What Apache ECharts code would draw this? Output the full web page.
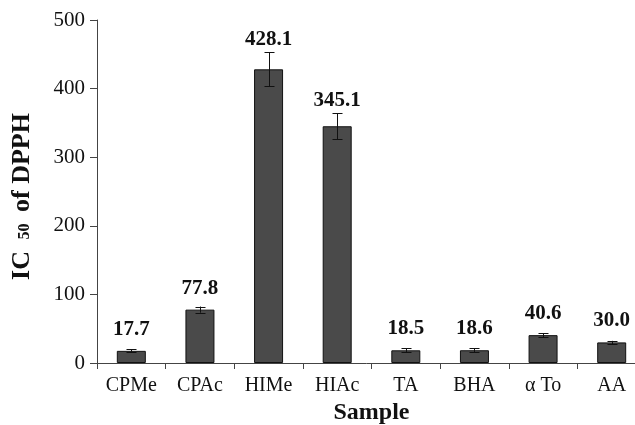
<!DOCTYPE html>
<html>
<head>
<meta charset="utf-8">
<script src="https://cdn.jsdelivr.net/npm/echarts@6/dist/echarts.min.js"></script>
<style>
  html, body { margin: 0; padding: 0; background: #fff; }
  #chart { width: 635px; height: 425px; }
</style>
</head>
<body>
<div id="chart"></div>
<script>
// IC50 of DPPH radical scavenging per sample, with standard deviation
const categories = ['CPMe', 'CPAc', 'HIMe', 'HIAc', 'TA', 'BHA', 'α To', 'AA'];
const ic50Values = [17.7, 77.8, 428.1, 345.1, 18.5, 18.6, 40.6, 30.0];
const ic50Errors = [2.2, 4.5, 25, 19, 3, 3, 2.8, 2.3];
const yTicks = [0, 100, 200, 300, 400, 500];

const serif = '"Liberation Serif", "Times New Roman", serif';
const axisColor = '#444';
const ink = '#111';

const errorData = ic50Values.map((v, i) => [i, v, ic50Errors[i]]);

const chart = echarts.init(document.getElementById('chart'));
chart.setOption({
  animation: false,
  backgroundColor: '#fff',
  grid: { left: 97, right: -11, top: 20, bottom: 62, containLabel: false, outerBoundsMode: 'none' },
  xAxis: {
    type: 'category',
    data: categories,
    boundaryGap: true,
    name: 'Sample',
    nameLocation: 'middle',
    nameGap: 37,
    nameTextStyle: { fontFamily: serif, fontWeight: 'bold', fontSize: 24, color: ink },
    axisLine: { lineStyle: { color: axisColor, width: 1 } },
    axisTick: { show: true, length: 6, lineStyle: { color: axisColor } },
    axisLabel: { fontFamily: serif, fontSize: 20, color: ink, margin: 13 },
    splitLine: { show: false }
  },
  yAxis: {
    type: 'value',
    min: yTicks[0],
    max: yTicks[yTicks.length - 1],
    interval: yTicks[1] - yTicks[0],
    name: '{a|IC }{b|50}{c| of DPPH}',
    nameLocation: 'middle',
    nameGap: 62,
    nameTextStyle: {
      rich: {
        a: { fontFamily: serif, fontWeight: 'bold', fontSize: 26, color: ink },
        b: { fontFamily: serif, fontWeight: 'bold', fontSize: 16, color: ink, padding: [6, 5, 0, 5] },
        c: { fontFamily: serif, fontWeight: 'bold', fontSize: 26, color: ink, padding: [0, 10, 0, 0] }
      }
    },
    axisLine: { show: true, lineStyle: { color: axisColor, width: 1 } },
    axisTick: { show: true, length: 7, lineStyle: { color: axisColor } },
    axisLabel: { fontFamily: serif, fontSize: 21, color: ink, margin: 12 },
    splitLine: { show: false }
  },
  series: [
    {
      type: 'bar',
      data: ic50Values,
      barWidth: 29,
      itemStyle: { color: '#4a4a4a', borderColor: '#111', borderWidth: 1 },
      z: 2
    },
    {
      // error bars plus value labels above each bar
      type: 'custom',
      data: errorData,
      z: 3,
      renderItem: function (params, api) {
        const i = api.value(0);
        const v = api.value(1);
        const e = api.value(2);
        const hi = api.coord([i, v + e]);
        const lo = api.coord([i, v - e]);
        const barTop = api.coord([i, v]);
        const x = Math.round(hi[0]) + 0.5;
        const hw = 5;
        const baseline = Math.min(hi[1] - 7, barTop[1] - 16);
        return {
          type: 'group',
          children: [
            { type: 'line', shape: { x1: x, y1: hi[1], x2: x, y2: lo[1] }, style: { stroke: ink, lineWidth: 1 } },
            { type: 'line', shape: { x1: x - hw, y1: Math.round(hi[1]) + 0.5, x2: x + hw, y2: Math.round(hi[1]) + 0.5 }, style: { stroke: ink, lineWidth: 1 } },
            { type: 'line', shape: { x1: x - hw, y1: Math.round(lo[1]) + 0.5, x2: x + hw, y2: Math.round(lo[1]) + 0.5 }, style: { stroke: ink, lineWidth: 1 } },
            {
              type: 'text',
              x: hi[0],
              y: baseline + 5,
              style: {
                text: v.toFixed(1),
                fontFamily: serif,
                fontWeight: 'bold',
                fontSize: 21,
                fill: ink,
                align: 'center',
                verticalAlign: 'bottom'
              }
            }
          ]
        };
      }
    }
  ]
});
</script>
</body>
</html>
